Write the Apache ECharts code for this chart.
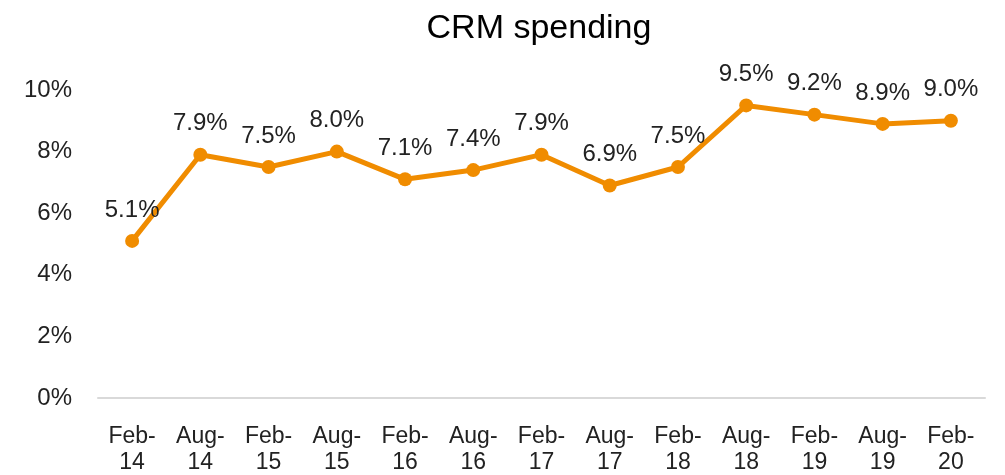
<!DOCTYPE html>
<html>
<head>
<meta charset="utf-8">
<script src="https://cdn.jsdelivr.net/npm/echarts@6/dist/echarts.min.js"></script>
<style>
  html, body { margin: 0; padding: 0; background: #fff; }
  #main { width: 1005px; height: 475px; }
</style>
</head>
<body>
<div id="main"></div>
<script>
// 数据
var categories = ['Feb-\n14', 'Aug-\n14', 'Feb-\n15', 'Aug-\n15', 'Feb-\n16', 'Aug-\n16', 'Feb-\n17',
  'Aug-\n17', 'Feb-\n18', 'Aug-\n18', 'Feb-\n19', 'Aug-\n19', 'Feb-\n20'];
var spending = [5.1, 7.9, 7.5, 8.0, 7.1, 7.4, 7.9, 6.9, 7.5, 9.5, 9.2, 8.9, 9.0];

var myChart = echarts.init(document.getElementById('main'));
var option = {
  textStyle: { fontFamily: 'Liberation Sans, Arial, sans-serif' },
  title: {
    text: 'CRM spending',
    left: 534,
    textAlign: 'center',
    top: 7,
    textStyle: { fontSize: 34, fontWeight: 'normal', color: '#000' }
  },
  grid: { left: 98, right: 20, top: 90, bottom: 77, outerBoundsMode: 'none' },
  xAxis: {
    type: 'category',
    data: categories,
    axisLine: { lineStyle: { color: '#d9d9d9', width: 2 } },
    axisTick: { show: false },
    axisLabel: { fontSize: 23, color: '#222', margin: 26, lineHeight: 26 }
  },
  yAxis: {
    type: 'value',
    min: 0,
    max: 10,
    interval: 2,
    splitLine: { show: false },
    axisLabel: { fontSize: 24, color: '#222', margin: 26, formatter: '{value}%' }
  },
  series: [{
    type: 'line',
    data: spending,
    symbol: 'circle',
    symbolSize: 14,
    lineStyle: { color: '#f08c00', width: 5 },
    itemStyle: { color: '#f08c00' },
    label: {
      show: true,
      position: 'top',
      distance: 12,
      fontSize: 24,
      color: '#222',
      formatter: function (p) { return p.value.toFixed(1) + '%'; }
    }
  }]
};
myChart.setOption(option);
</script>
</body>
</html>
